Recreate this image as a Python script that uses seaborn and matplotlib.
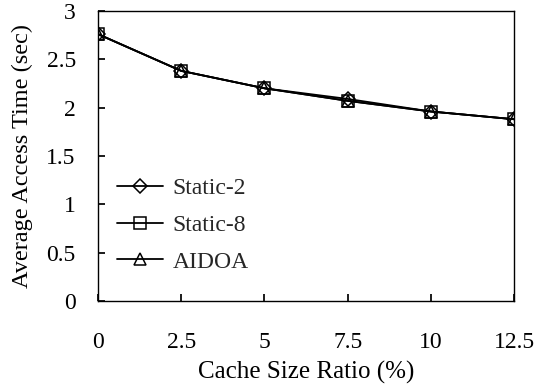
import matplotlib
matplotlib.use("Agg")
import matplotlib.pyplot as plt
import seaborn as sns
import pandas as pd

ratios = [0, 2.5, 5, 7.5, 10, 12.5]
static2 = [2.76, 2.38, 2.20, 2.09, 1.96, 1.88]
static8 = [2.76, 2.38, 2.20, 2.07, 1.96, 1.88]
aidoa = [2.76, 2.38, 2.20, 2.07, 1.96, 1.88]
series_names = ["Static-2", "Static-8", "AIDOA"]

sns.set_theme(style="white")
plt.rcParams['font.family'] = ['Liberation Serif', 'DejaVu Serif']

df = pd.DataFrame({
    "ratio": ratios * 3,
    "time": static2 + static8 + aidoa,
    "series": sum([[n] * len(ratios) for n in series_names], []),
})

fig = plt.figure(figsize=(5.37, 3.9), dpi=100)
ax = fig.add_axes([0.1825, 0.228, 0.775, 0.744])

markers = {"Static-2": "D", "Static-8": "s", "AIDOA": "^"}
msizes = {"Static-2": 7, "Static-8": 9, "AIDOA": 9}
for name in series_names:
    sub = df[df["series"] == name]
    sns.lineplot(data=sub, x="ratio", y="time", ax=ax, color="black",
                 linewidth=1.3, marker=markers[name], markersize=msizes[name],
                 markerfacecolor="none", markeredgecolor="black",
                 markeredgewidth=1.1, label=name)

ax.set_xlim(0, 12.5)
ax.set_ylim(0, 3)
ax.set_xticks(ratios)
ax.set_xticklabels(["0", "2.5", "5", "7.5", "10", "12.5"])
ax.set_yticks([0, 0.5, 1, 1.5, 2, 2.5, 3])
ax.set_yticklabels(["0", "0.5", "1", "1.5", "2", "2.5", "3"])
ax.tick_params(axis="x", direction="in", length=5, pad=22, labelsize=17, colors="black")
ax.tick_params(axis="y", direction="in", length=5, pad=16, labelsize=17, colors="black")
ax.tick_params(which="both", bottom=True, left=True)
for s in ax.spines.values():
    s.set_color("black")
    s.set_linewidth(1.0)
ax.set_xlabel("Cache Size Ratio (%)", fontsize=18, color="black", labelpad=6)
ax.set_ylabel("Average Access Time (sec)", fontsize=17.5, color="black", labelpad=10)

leg = ax.legend(loc="center left", bbox_to_anchor=(0.023, 0.262), frameon=False,
                fontsize=17, handlelength=1.95, handletextpad=0.4, labelspacing=0.65,
                borderaxespad=0.0)

fig.savefig("out.png", dpi=100)
